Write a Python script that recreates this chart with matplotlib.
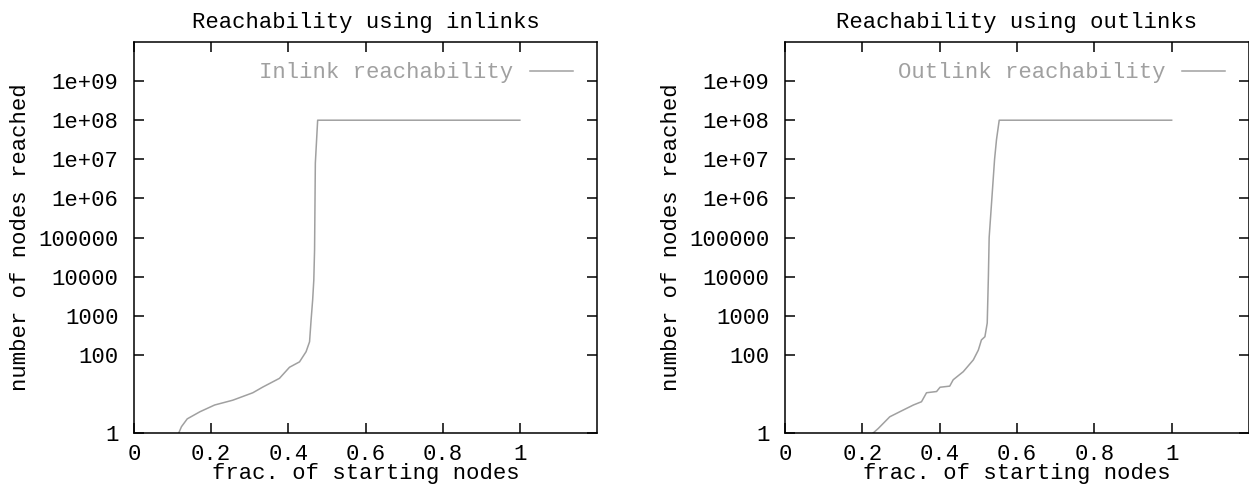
import matplotlib
matplotlib.use("Agg")
import matplotlib.pyplot as plt

plt.rcParams['font.family'] = ['Liberation Mono', 'DejaVu Sans Mono']
plt.rcParams['font.size'] = 16

# inlink reachability curve
in_frac = [0.116, 0.123, 0.138, 0.171, 0.209, 0.256, 0.308, 0.334, 0.377, 0.403,
           0.429, 0.446, 0.455, 0.459, 0.463, 0.466, 0.468, 0.470, 0.476, 1.0]
in_nodes = [1, 1.45, 2.3, 3.5, 5.2, 6.9, 10.7, 15, 25, 48,
            66, 120, 215, 780, 2500, 8100, 48000, 8e6, 1e8, 1e8]

# outlink reachability curve
out_frac = [0.228, 0.241, 0.271, 0.297, 0.332, 0.353, 0.366, 0.392, 0.401, 0.426,
            0.435, 0.461, 0.487, 0.500, 0.508, 0.517, 0.523, 0.526, 0.528, 0.535,
            0.542, 0.547, 0.554, 1.0]
out_nodes = [1, 1.3, 2.6, 3.5, 5.2, 6.3, 10.7, 11.5, 14.8, 15.8,
             23, 37, 74, 132, 240, 290, 650, 10000, 1e5, 1e6,
             1e7, 3.2e7, 1e8, 1e8]

xticks = [0, 0.2, 0.4, 0.6, 0.8, 1]
xticklabels = ["0", "0.2", "0.4", "0.6", "0.8", "1"]
yticks = [1, 1e2, 1e3, 1e4, 1e5, 1e6, 1e7, 1e8, 1e9]
yticklabels = ["1", "100", "1000", "10000", "100000", "1e+06", "1e+07", "1e+08", "1e+09"]

grey = "#a0a0a0"

fig = plt.figure(figsize=(12.49, 4.86), dpi=100)

def panel(rect, x, y, title, label):
    ax = fig.add_axes(rect)
    ax.plot(x, y, color=grey, lw=1.1, label=label)
    ax.set_yscale("log")
    ax.set_xlim(0, 1.2)
    ax.set_ylim(1, 1e10)
    ax.set_xticks(xticks)
    ax.set_xticklabels(xticklabels)
    ax.set_yticks(yticks)
    ax.set_yticklabels(yticklabels)
    ax.minorticks_off()
    ax.tick_params(direction="in", length=7.5, width=1.1, top=True, right=True)
    ax.tick_params(axis="x", pad=8)
    ax.tick_params(axis="y", pad=11)
    for s in ax.spines.values():
        s.set_linewidth(1.1)
    ax.set_title(title, fontsize=16, pad=10)
    ax.set_xlabel("frac. of starting nodes", fontsize=16)
    ax.set_ylabel("number of nodes reached", fontsize=16)
    ax.xaxis.set_label_coords(0.5, -0.077)
    ax.yaxis.set_label_coords(-0.222, 0.5)
    ax.legend(loc="center right", bbox_to_anchor=(0.948, 0.921), frameon=False,
              markerfirst=False, handlelength=1.95, handletextpad=0.72,
              borderpad=0, borderaxespad=0, labelcolor=grey)
    return ax

panel([134/1249, 53/486, 463/1249, 391/486], in_frac, in_nodes,
      "Reachability using inlinks", "Inlink reachability")
panel([785/1249, 53/486, 464/1249, 391/486], out_frac, out_nodes,
      "Reachability using outlinks", "Outlink reachability")

fig.savefig("out.png", dpi=100)
